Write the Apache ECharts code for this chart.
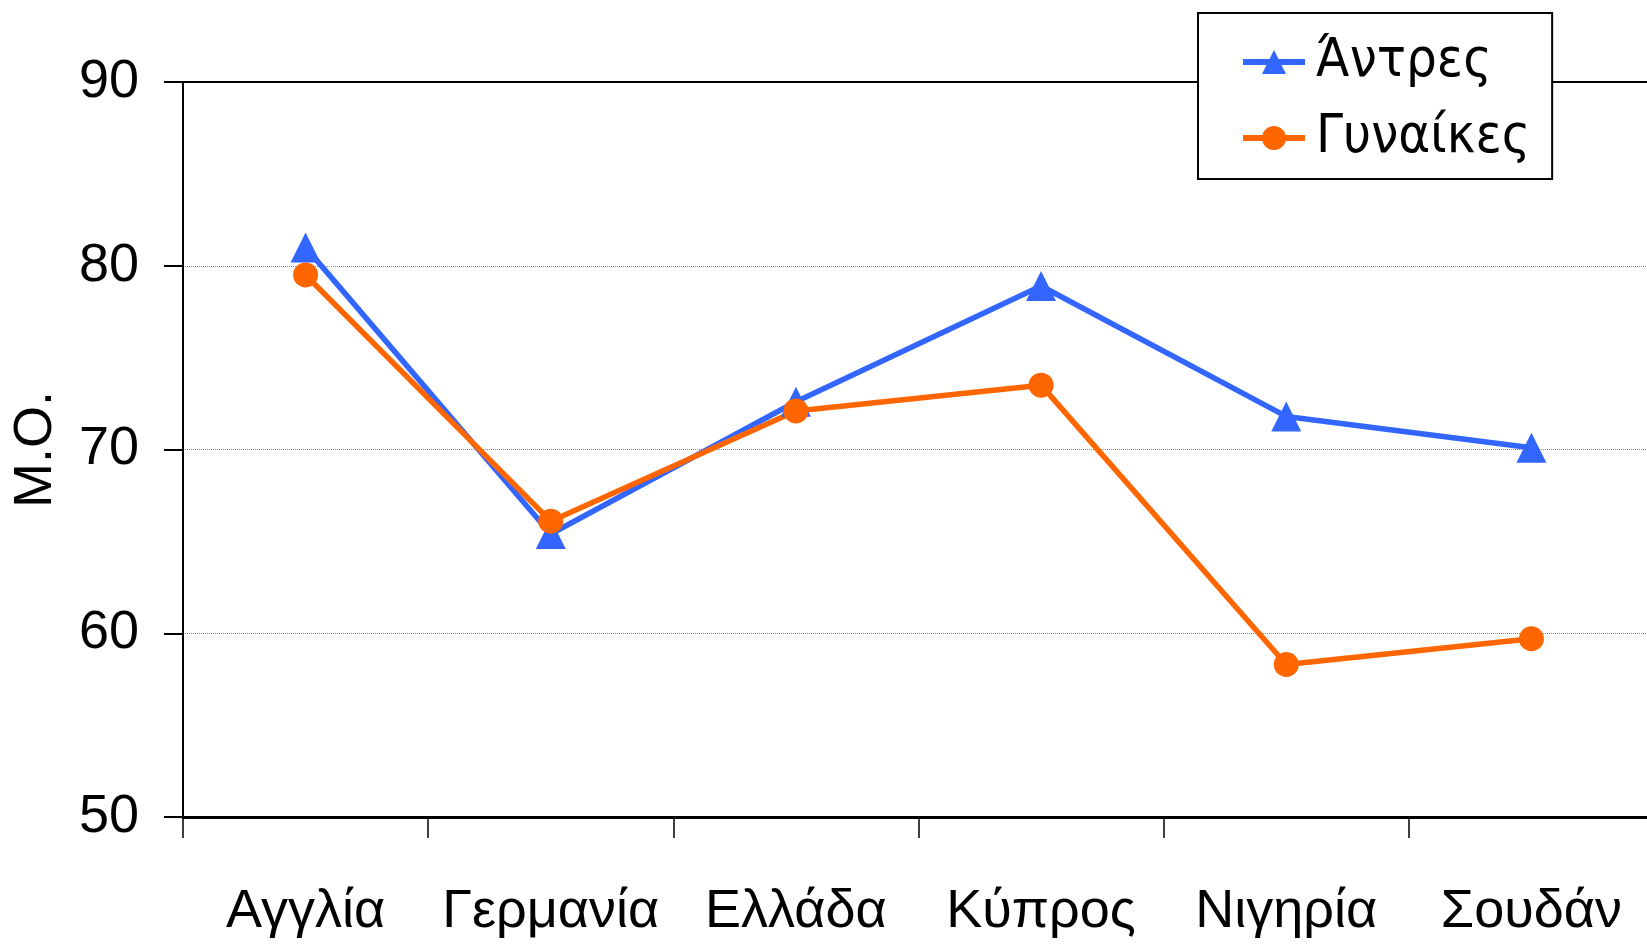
<!DOCTYPE html>
<html><head><meta charset="utf-8">
<script src="https://cdn.jsdelivr.net/npm/echarts@6/dist/echarts.min.js"></script>
<style>html,body{margin:0;padding:0;background:#fff}#c{width:1647px;height:947px}</style>
</head><body><div id="c"></div>
<script>
const categories = ['Αγγλία','Γερμανία','Ελλάδα','Κύπρος','Νιγηρία','Σουδάν'];
const men = [81.0, 65.4, 72.6, 78.9, 71.8, 70.1];
const women = [79.5, 66.1, 72.1, 73.5, 58.3, 59.7];
const seriesNames = ['Άντρες','Γυναίκες'];
const yTicks = {min: 50, max: 90, interval: 10};
const yName = 'Μ.Ο.';

const narrow = '"Liberation Sans Narrow","Arial Narrow","Liberation Sans",sans-serif';
const chart = echarts.init(document.getElementById('c'));
chart.setOption({
  animation: false,
  backgroundColor: '#fff',
  grid: {left: 183, right: -7, top: 82, bottom: 130, containLabel: false, outerBoundsMode: 'none'},
  legend: {
    orient: 'vertical', left: 1198, top: 13,
    backgroundColor: '#fff', borderColor: '#000', borderWidth: 2, borderRadius: 0,
    padding: [22, 22, 14, 42], itemGap: 22, itemWidth: 62, itemHeight: 30,
    lineStyle: {width: 6},
    textStyle: {fontSize: 54, color: '#000', fontFamily: '"DejaVu Sans Condensed","DejaVu Sans",sans-serif', padding: [0, 0, 0, 6]},
    data: seriesNames
  },
  xAxis: [{
    type: 'category', data: categories, boundaryGap: true,
    axisLine: {show: true, lineStyle: {color: '#000', width: 3}},
    axisTick: {show: true, interval: 0, length: 21, lineStyle: {color: '#000', width: 1.5}},
    axisLabel: {interval: 0, fontSize: 54, color: '#000', fontFamily: narrow, margin: 68}
  }, {
    type: 'category', data: categories, position: 'top',
    axisLine: {show: true, onZero: false, lineStyle: {color: '#000', width: 2}},
    axisTick: {show: false}, axisLabel: {show: false}
  }],
  yAxis: {
    type: 'value', min: yTicks.min, max: yTicks.max, interval: yTicks.interval,
    name: yName, nameLocation: 'middle', nameGap: 120, nameRotate: 90,
    nameTextStyle: {fontSize: 54, color: '#000', fontFamily: narrow},
    axisLine: {show: true, lineStyle: {color: '#000', width: 2}},
    axisTick: {show: true, inside: false, length: 19, lineStyle: {color: '#000', width: 2}},
    axisLabel: {fontSize: 54, color: '#000', fontFamily: narrow, margin: 44},
    splitLine: {show: true, lineStyle: {color: '#888', type: 'dotted', width: 1}}
  },
  series: [{
    name: seriesNames[0], type: 'line', data: men,
    symbol: 'triangle', symbolSize: 30,
    lineStyle: {color: '#3366FF', width: 5.5}, itemStyle: {color: '#3366FF'}
  }, {
    name: seriesNames[1], type: 'line', data: women,
    symbol: 'circle', symbolSize: 25,
    lineStyle: {color: '#FF6600', width: 5.5}, itemStyle: {color: '#FF6600'}
  }]
});
</script></body></html>
